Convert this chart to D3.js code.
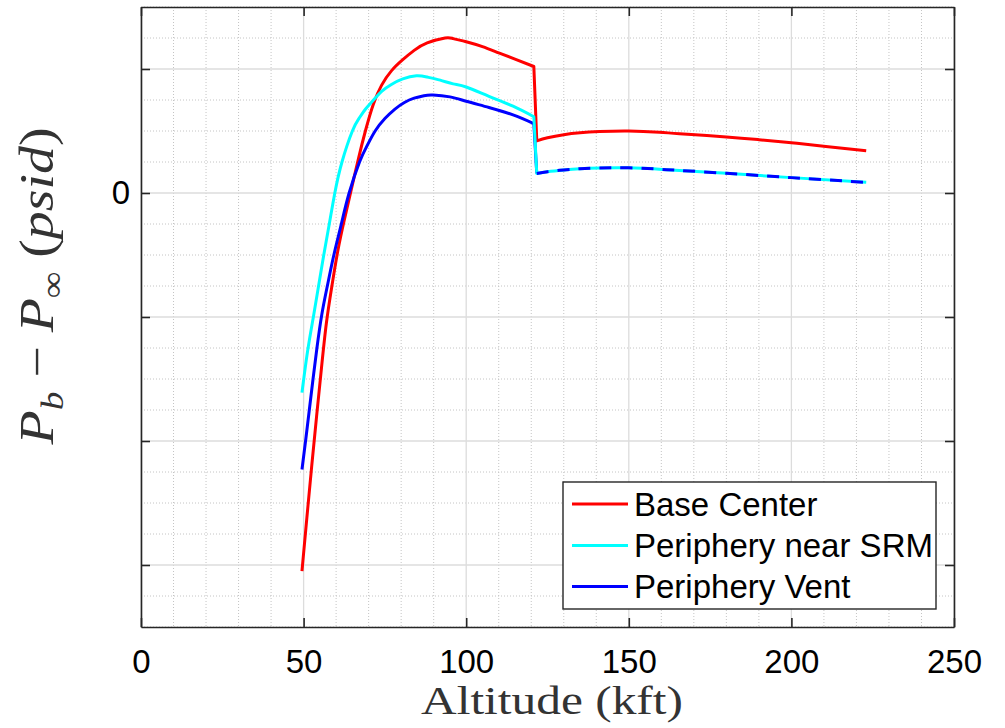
<!DOCTYPE html>
<html>
<head>
<meta charset="utf-8">
<script src="https://cdn.jsdelivr.net/npm/d3@7"></script>
<style>
  html, body { margin: 0; padding: 0; background: #fff; }
  svg { display: block; }
</style>
</head>
<body>
<svg id="chart" width="1005" height="728"></svg>
<script>
// ---------------- data ----------------
const seriesNames = ["Base Center", "Periphery near SRM", "Periphery Vent"];

const baseCenterAlt = [49.5, 51, 52.5, 54, 55.5, 57, 58.7, 60.5, 62.5, 64.6, 66.8, 69.0, 71.5, 74, 77, 80.5, 84, 88, 93.5, 96, 100, 105, 110, 115, 120.8, 121.7, 125, 130, 135, 141, 150, 159.4, 165.6, 180, 190, 200, 210.6, 223];
const baseCenterVal = [-3.05, -2.62, -2.2, -1.8, -1.41, -1.05, -0.75, -0.47, -0.22, 0.02, 0.27, 0.5, 0.72, 0.87, 0.985, 1.075, 1.15, 1.21, 1.25, 1.245, 1.22, 1.18, 1.13, 1.08, 1.02, 0.42, 0.445, 0.47, 0.485, 0.495, 0.50, 0.49, 0.478, 0.452, 0.43, 0.405, 0.375, 0.341];

const nearSrmAlt = [49.5, 51.2, 53.0, 54.6, 56.2, 57.9, 59.6, 61.8, 65.0, 67, 69, 71.5, 74, 77, 80.5, 84.7, 88, 92, 96, 100, 107, 114.4, 120.8, 121.7, 125, 130, 135, 141, 150, 159.4, 165.6, 180, 200, 223];
const nearSrmVal = [-1.61, -1.28, -1.0, -0.75, -0.5, -0.25, 0.0, 0.25, 0.5, 0.6, 0.675, 0.75, 0.82, 0.875, 0.92, 0.945, 0.935, 0.91, 0.88, 0.855, 0.78, 0.70, 0.615, 0.157, 0.172, 0.186, 0.196, 0.202, 0.203, 0.192, 0.182, 0.159, 0.124, 0.086];

const ventAlt = [49.5, 50.7, 51.8, 52.9, 54.1, 55.6, 57.3, 59.3, 61.6, 64.0, 67.2, 69.5, 72, 75, 78, 81, 84, 87, 89.8, 95, 100, 107, 114.4, 120.8, 121.7, 125, 130, 135, 141, 150, 159.4, 165.6, 180, 200, 223];
const ventVal = [-2.23, -1.98, -1.74, -1.5, -1.25, -0.98, -0.75, -0.5, -0.25, 0.0, 0.25, 0.38, 0.5, 0.6, 0.675, 0.73, 0.765, 0.785, 0.79, 0.775, 0.74, 0.69, 0.63, 0.56, 0.157, 0.172, 0.186, 0.196, 0.202, 0.203, 0.192, 0.182, 0.159, 0.124, 0.086];

const xTicks = [0, 50, 100, 150, 200, 250];
const xTickLabels = ["0", "50", "100", "150", "200", "250"];
const yTicks = [-3, -2, -1, 0, 1];
const yTickLabels = ["", "", "", "0", ""];
const jumpAltitude = 121.7; // where the lines step down; vent continues dashed

// ---------------- layout ----------------
const svg = d3.select("#chart");
const L = 141, R = 954, T = 7, B = 627;
const x = d3.scaleLinear().domain([0, 250]).range([L, R]);
const y = d3.scaleLinear().domain([-3.5, 1.5]).range([B, T]);

const axisColor = "#262626";
const fontSans = "'Liberation Sans', Arial, Helvetica, sans-serif";
const fontSerif = "'Liberation Serif', 'Times New Roman', serif";

// minor grid
const xMinor = d3.range(0, 251, 10).filter(v => v % 50 !== 0);
const yMinor = d3.range(-3.5, 1.51, 0.25).filter(v => Math.abs(v - Math.round(v)) > 1e-6);

const grid = svg.append("g");
grid.selectAll("line.xm").data(xMinor).join("line")
  .attr("x1", d => x(d)).attr("x2", d => x(d)).attr("y1", T).attr("y2", B)
  .attr("stroke", "#c4c4c4").attr("stroke-width", 1).attr("stroke-dasharray", "1,2");
grid.selectAll("line.ym").data(yMinor).join("line")
  .attr("x1", L).attr("x2", R).attr("y1", d => y(d)).attr("y2", d => y(d))
  .attr("stroke", "#c4c4c4").attr("stroke-width", 1).attr("stroke-dasharray", "1,2");
// major grid
grid.selectAll("line.xM").data(xTicks).join("line")
  .attr("x1", d => x(d)).attr("x2", d => x(d)).attr("y1", T).attr("y2", B)
  .attr("stroke", "#dcdcdc").attr("stroke-width", 1.3);
grid.selectAll("line.yM").data(yTicks).join("line")
  .attr("x1", L).attr("x2", R).attr("y1", d => y(d)).attr("y2", d => y(d))
  .attr("stroke", "#dcdcdc").attr("stroke-width", 1.3);

// ---------------- lines ----------------
const zip = (a, b) => a.map((v, i) => [v, b[i]]);
const smooth = d3.line().x(d => x(d[0])).y(d => y(d[1])).curve(d3.curveNatural);
// smooth pieces before and after the step, joined by a straight drop
function stepPath(pts) {
  const pre = pts.filter(d => d[0] < jumpAltitude);
  const post = pts.filter(d => d[0] >= jumpAltitude);
  return smooth(pre) + smooth(post).replace(/^M/, "L");
}

const red = zip(baseCenterAlt, baseCenterVal);
const cyan = zip(nearSrmAlt, nearSrmVal);
const blue = zip(ventAlt, ventVal);
const bluePre = blue.filter(d => d[0] < jumpAltitude);
const bluePost = blue.filter(d => d[0] >= jumpAltitude);

const plot = svg.append("g");
plot.append("path").attr("d", stepPath(red)).attr("fill", "none").attr("stroke", "#ff0000").attr("stroke-width", 3).attr("stroke-linejoin", "round");
plot.append("path").attr("d", smooth(bluePre) + "L" + x(bluePost[0][0]) + "," + y(bluePost[0][1]))
  .attr("fill", "none").attr("stroke", "#0000ff").attr("stroke-width", 3).attr("stroke-linejoin", "round");
plot.append("path").attr("d", stepPath(cyan)).attr("fill", "none").attr("stroke", "#00ffff").attr("stroke-width", 3).attr("stroke-linejoin", "round");
plot.append("path").attr("d", smooth(bluePost)).attr("fill", "none").attr("stroke", "#0000ff").attr("stroke-width", 3).attr("stroke-dasharray", "12,9");

// ---------------- axes ----------------
const tickLen = 9;
const axB = svg.append("g").attr("transform", `translate(0,${B})`)
  .call(d3.axisBottom(x).tickValues(xTicks).tickFormat((d, i) => xTickLabels[i]).tickSizeInner(-tickLen).tickSizeOuter(0).tickPadding(23));
const axT = svg.append("g").attr("transform", `translate(0,${T})`)
  .call(d3.axisTop(x).tickValues(xTicks).tickFormat("").tickSizeInner(-tickLen).tickSizeOuter(0));
const axL = svg.append("g").attr("transform", `translate(${L},0)`)
  .call(d3.axisLeft(y).tickValues(yTicks).tickFormat((d, i) => yTickLabels[i]).tickSizeInner(-tickLen).tickSizeOuter(0).tickPadding(11));
const axR = svg.append("g").attr("transform", `translate(${R},0)`)
  .call(d3.axisRight(y).tickValues(yTicks).tickFormat("").tickSizeInner(-tickLen).tickSizeOuter(0));

[axB, axT, axL, axR].forEach(g => {
  g.select(".domain").attr("stroke", axisColor).attr("stroke-width", 1.6);
  g.selectAll(".tick line").attr("stroke", axisColor).attr("stroke-width", 1.6);
  g.selectAll(".tick text").attr("fill", "#000").style("font-family", fontSans).style("font-size", "33px");
});
axB.selectAll(".tick text").attr("dy", "0.71em");

// ---------------- labels ----------------
svg.append("text")
  .attr("x", 552).attr("y", 714)
  .attr("text-anchor", "middle")
  .attr("textLength", 262).attr("lengthAdjust", "spacingAndGlyphs")
  .style("font-family", fontSerif).style("font-size", "40px").attr("fill", "#333")
  .text("Altitude (kft)");

const yl = svg.append("text")
  .attr("transform", "translate(53,286) rotate(-90)")
  .attr("text-anchor", "middle")
  .attr("textLength", 317).attr("lengthAdjust", "spacingAndGlyphs")
  .style("font-family", fontSerif).style("font-size", "48px").attr("fill", "#333");
yl.append("tspan").style("font-style", "italic").text("P");
yl.append("tspan").style("font-style", "italic").style("font-size", "32px").attr("dy", 10).text("b");
yl.append("tspan").attr("dy", -10).text(" − ");
yl.append("tspan").style("font-style", "italic").text("P");
yl.append("tspan").style("font-size", "32px").attr("dy", 10).text("∞");
yl.append("tspan").attr("dy", -10).text(" (");
yl.append("tspan").style("font-style", "italic").text("psid");
yl.append("tspan").text(")");

// ---------------- legend ----------------
const legColors = ["#ff0000", "#00ffff", "#0000ff"];
const lg = svg.append("g");
lg.append("rect").attr("x", 563).attr("y", 482).attr("width", 373).attr("height", 127)
  .attr("fill", "#fff").attr("stroke", axisColor).attr("stroke-width", 1.4);
const rowY = [504, 545.5, 586.5];
seriesNames.forEach((name, i) => {
  lg.append("line").attr("x1", 572).attr("x2", 628).attr("y1", rowY[i]).attr("y2", rowY[i])
    .attr("stroke", legColors[i]).attr("stroke-width", 3);
  lg.append("text").attr("x", 634).attr("y", rowY[i]).attr("dy", "0.36em")
    .style("font-family", fontSans).style("font-size", "33px").attr("fill", "#000").text(name);
});
</script>
</body>
</html>
